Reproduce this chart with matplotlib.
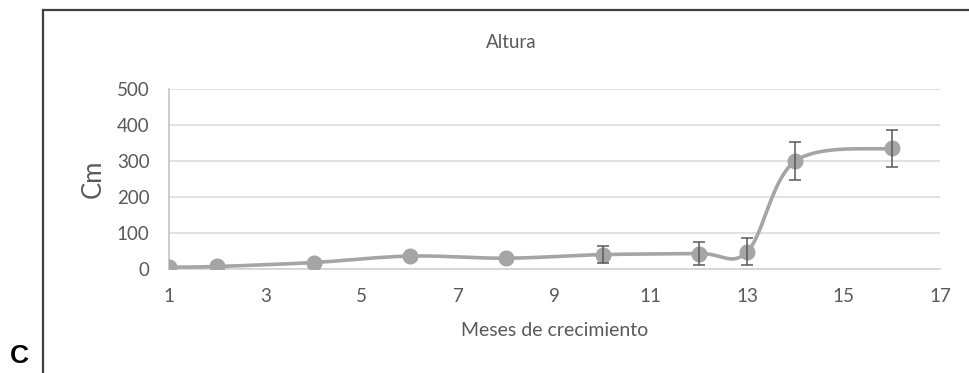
import matplotlib.pyplot as plt
import numpy as np

# altura media por mes de crecimiento
meses = [1, 2, 4, 6, 8, 10, 12, 13, 14, 16]
altura = [5, 7, 18, 36, 30, 40, 43, 48, 300, 335]
error = [0, 0, 0, 0, 0, 24, 32, 37, 52, 52]

x_ticks = [1, 3, 5, 7, 9, 11, 13, 15, 17]
y_ticks = [0, 100, 200, 300, 400, 500]


def smooth_curve(x, y, n=40):
    # bezier suavizado tipo Excel (Catmull-Rom, tension 1/6)
    x = np.asarray(x, float)
    y = np.asarray(y, float)
    px = np.concatenate([[x[0]], x, [x[-1]]])
    py = np.concatenate([[y[0]], y, [y[-1]]])
    xs, ys = [], []
    t = np.linspace(0, 1, n)
    for i in range(1, len(px) - 2):
        p0 = np.array([px[i], py[i]])
        p3 = np.array([px[i + 1], py[i + 1]])
        p1 = p0 + (np.array([px[i + 1], py[i + 1]]) - np.array([px[i - 1], py[i - 1]])) / 6
        p2 = p3 - (np.array([px[i + 2], py[i + 2]]) - np.array([px[i], py[i]])) / 6
        b = ((1 - t) ** 3)[:, None] * p0 + (3 * (1 - t) ** 2 * t)[:, None] * p1 \
            + (3 * (1 - t) * t ** 2)[:, None] * p2 + (t ** 3)[:, None] * p3
        xs.extend(b[:, 0])
        ys.extend(b[:, 1])
    return xs, ys


plt.rcParams['font.family'] = ['Lato', 'DejaVu Sans']
gris = '#595959'
W, H = 969, 373

fig = plt.figure(figsize=(W / 100, H / 100), dpi=100)
ax = fig.add_axes([169 / W, 1 - 269 / H, (940 - 169) / W, (269 - 89) / H])

sx, sy = smooth_curve(meses, altura)
ax.plot(sx, sy, color='#a5a5a5', linewidth=2.6, solid_capstyle='round', zorder=3)
ax.plot(meses, altura, 'o', color='#a5a5a5', markersize=10.5, zorder=4)

idx = [i for i, e in enumerate(error) if e > 0]
ax.errorbar([meses[i] for i in idx], [altura[i] for i in idx],
            yerr=[error[i] for i in idx], fmt='none', ecolor=gris,
            elinewidth=1.1, capsize=4, capthick=1.1, zorder=5)

ax.set_xlim(1, 17)
ax.set_ylim(0, 500)
ax.set_xticks(x_ticks)
ax.set_yticks(y_ticks)
ax.tick_params(axis='both', length=0, labelsize=13.5, labelcolor=gris)
ax.tick_params(axis='y', pad=14)
ax.tick_params(axis='x', pad=14)
ax.grid(axis='y', color='#d9d9d9', linewidth=1.1)
ax.set_axisbelow(True)
for side in ['top', 'right']:
    ax.spines[side].set_visible(False)
ax.spines['left'].set_color('#bfbfbf')
ax.spines['bottom'].set_color('#d0d0d0')
ax.spines['left'].set_linewidth(1.1)
ax.spines['bottom'].set_linewidth(1.1)

# rotulos
fig.text(93 / W, 1 - 179 / H, 'Cm', fontsize=18.5, color=gris, rotation=90,
         ha='center', va='center')
fig.text(555 / W, 1 - 331 / H, 'Meses de crecimiento', fontsize=14, color=gris,
         ha='center', va='center')
fig.text(511 / W, 1 - 43 / H, 'Altura', fontsize=13.5, color=gris,
         ha='center', va='center')

# marco del panel y letra
fig.add_artist(plt.Line2D([43 / W, 43 / W], [0, 1 - 10 / H],
                          transform=fig.transFigure, color='#404040', linewidth=1.6))
fig.add_artist(plt.Line2D([43 / W, 1], [1 - 10 / H, 1 - 10 / H],
                          transform=fig.transFigure, color='#404040', linewidth=1.6))
fig.text(19 / W, 1 - 356 / H, 'C', fontsize=19, fontweight='bold',
         family=['Liberation Sans', 'DejaVu Sans'], ha='center', va='center')

fig.savefig('out.png', dpi=100)
